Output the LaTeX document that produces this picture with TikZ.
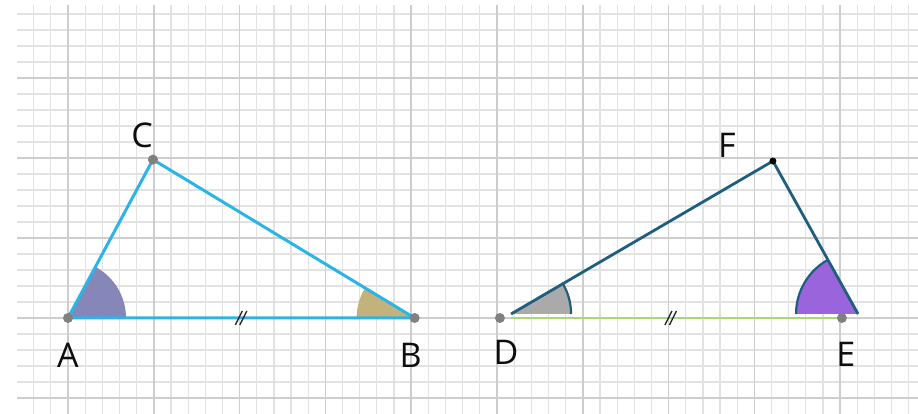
\documentclass[tikz,border=0pt]{standalone}
\usepackage{fontspec}
\setsansfont{Open Sans}
\usepackage{tikz}
\usetikzlibrary{positioning,calc}
\definecolor{GridFine}{HTML}{E2E2E2}
\definecolor{GridMajor}{HTML}{CDCDCD}
\definecolor{SkyBlue}{HTML}{2CB4E6}
\definecolor{DeepTeal}{HTML}{1F5E7E}
\definecolor{LimeLine}{HTML}{A8DA70}
\definecolor{AngleSlate}{HTML}{8686B8}
\definecolor{AngleKhaki}{HTML}{C4B27C}
\definecolor{AngleGrey}{HTML}{AAAAAA}
\definecolor{AngleViolet}{HTML}{9A64DC}
\definecolor{DotGrey}{HTML}{808080}

\begin{document}
\begin{tikzpicture}[
        x=17.16pt, y=16pt,
        font=\sffamily\fontsize{34}{38}\selectfont,
        finegrid/.style={draw=GridFine, line width=1.2pt},
        majorgrid/.style={draw=GridMajor, line width=1.6pt},
        sideabc/.style={draw=SkyBlue, line width=3pt, line join=round},
        sidedef/.style={draw=DeepTeal, line width=2.8pt, line join=round},
        basede/.style={draw=LimeLine, line width=2pt},
        anglearc/.style={draw=DeepTeal, line width=2.2pt},
        tickmark/.style={draw=black!85, line width=1.3pt},
        vertex/.style={circle, fill=DotGrey, inner sep=0pt, minimum size=10pt},
        apex/.style={circle, fill=black, inner sep=0pt, minimum size=7pt},
        letter/.style={inner sep=1pt, text=black!95},
    ]

    \fill[white] (-3.963,-6) rectangle (49.534,19.875);
    \useasboundingbox (-3.963,-6) rectangle (49.534,19.875);

    % squared paper
    \foreach \i in {-2,...,49}
    \draw[finegrid] (\i,-6) -- (\i,19.56);
    \foreach \j in {-5,...,19}
    \draw[finegrid] (-2.97,\j) -- (49.534,\j);
    \foreach \i in {0,5,...,45}
    \draw[majorgrid] (\i,-6) -- (\i,19.56);
    \foreach \j in {-5,0,...,15}
    \draw[majorgrid] (-2.97,\j) -- (49.534,\j);

    \coordinate (A) at (0,0);
    \coordinate (B) at (20.2,0);
    \coordinate (C) at (4.95,9.9);
    \coordinate (D) at (25.17,0);
    \coordinate (E) at (45.1,0);
    \coordinate (Dt) at (25.82,0.25);
    \coordinate (Et) at (46.04,0.25);
    \coordinate (F) at (41.08,9.81);
    \coordinate (Dg) at (Dt |- D);
    \coordinate (mAB) at ($(A)!0.5!(B)$);
    \coordinate (mDE) at ($(D)!0.5!(E)$);

    % marked angles
    \fill[AngleSlate] (A) -- ++(0:58pt) arc[start angle=0, end angle=61.8, radius=58pt] -- cycle;
    \fill[AngleKhaki] (B) -- ++(180:58pt) arc[start angle=180, end angle=148.1, radius=58pt] -- cycle;
    \fill[AngleGrey] (Dt) -- ++(0:60pt) arc[start angle=0, end angle=30.3, radius=60pt] -- cycle;
    \fill[AngleViolet] (Et) -- ++(180:62pt) arc[start angle=180, end angle=119.1, radius=62pt] -- cycle;

    \draw[sideabc] (A) -- (C) -- (B) -- cycle;
    \draw[basede] (Dg) -- (E);
    \draw[sidedef] (Dt) -- (F) -- (Et);
    \draw[anglearc] (Dt) ++(0:60pt) arc[start angle=0, end angle=30.3, radius=60pt];
    \draw[anglearc] (Et) ++(180:62pt) arc[start angle=180, end angle=119.1, radius=62pt];

    % equal sides
    \foreach \m in {mAB,mDE} {
        \draw[tickmark] ($(\m)+(-6pt,-7pt)$) -- ++(7pt,14pt);
        \draw[tickmark] ($(\m)+(-1.5pt,-7pt)$) -- ++(7pt,14pt);
    }

    \node[vertex] (dotA) at (A) {};
    \node[vertex] (dotB) at (B) {};
    \node[vertex] (dotC) at (C) {};
    \node[vertex] (dotD) at (D) {};
    \node[vertex] (dotE) at (E) {};
    \node[apex] (dotF) at (F) {};

    \node[letter, below=24pt of A] (labA) {A};
    \node[letter, below=24pt of B, xshift=-4pt] (labB) {B};
    \node[letter, above left=11pt and -1pt of C] (labC) {C};
    \node[letter, below=21pt of D, xshift=6pt] (labD) {D};
    \node[letter, below=23pt of E, xshift=4pt] (labE) {E};
    \node[letter, above left=2pt and 36pt of F] (labF) {F};

\end{tikzpicture}
\end{document}
